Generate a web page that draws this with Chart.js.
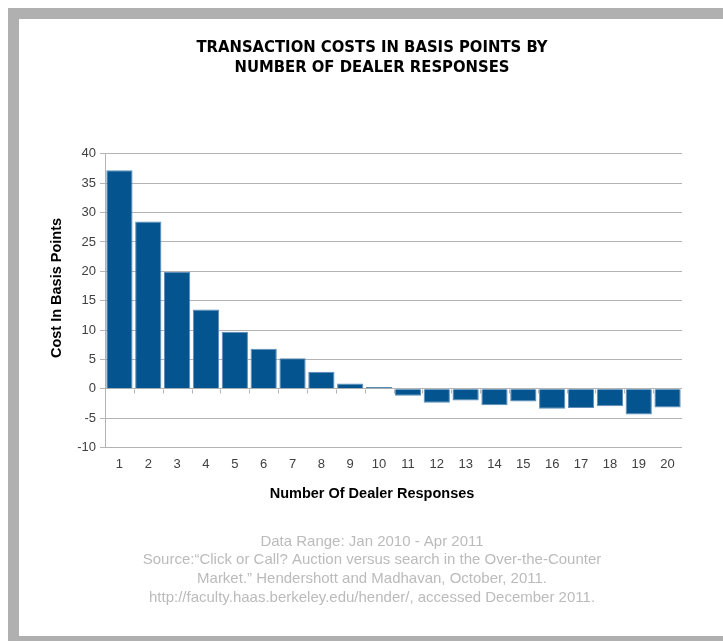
<!DOCTYPE html>
<html>
<head>
<meta charset="utf-8">
<script src="https://cdn.jsdelivr.net/npm/chart.js@4.4.1/dist/chart.umd.min.js"></script>
<style>
  html, body { margin: 0; padding: 0; background: #fff; overflow: hidden; }
  body { width: 723px; height: 641px; position: relative; }
  #frame {
    position: absolute; left: 8px; top: 8px;
    width: 800px; height: 617px;
    border: 11px solid #b0b0b0; border-right: none;
  }
  #mycanvas { position: absolute; left: 0; top: 0; }
</style>
</head>
<body>
<div id="frame"></div>
<canvas id="mycanvas" width="723" height="641"></canvas>
<script>
const categories = ['1', '2', '3', '4', '5', '6', '7', '8', '9', '10',
                    '11', '12', '13', '14', '15', '16', '17', '18', '19', '20'];
const costs = [37.2, 28.5, 19.9, 13.5, 9.7, 6.8, 5.2, 2.9, 0.9, 0.3,
               -1.2, -2.4, -2.0, -2.8, -2.2, -3.4, -3.3, -3.0, -4.4, -3.2];
const yTicks = [-10, -5, 0, 5, 10, 15, 20, 25, 30, 35, 40];

const titleLines = ['TRANSACTION COSTS IN BASIS POINTS BY', 'NUMBER OF DEALER RESPONSES'];
const xTitle = 'Number Of Dealer Responses';
const yTitle = 'Cost In Basis Points';
const footerLines = [
    'Data Range: Jan 2010 - Apr 2011',
    'Source:\u201CClick or Call? Auction versus search in the Over-the-Counter',
    'Market.\u201D Hendershott and Madhavan, October, 2011.',
    'http://faculty.haas.berkeley.edu/hender/, accessed December 2011.'
];

const gridColor = '#b3b3b3';
const axisFont = '"Liberation Sans", Arial, sans-serif';

// small tick marks where the category axis crosses zero
const zeroTicks = {
    id: 'zeroTicks',
    afterDatasetsDraw(chart) {
        const x = chart.scales.x, y = chart.scales.y;
        const ctx = chart.ctx;
        const y0 = Math.round(y.getPixelForValue(0)) + 0.5;
        ctx.save();
        ctx.strokeStyle = gridColor;
        ctx.lineWidth = 1;
        for (let i = 1; i < categories.length; i++) {
            let px = Math.round((x.getPixelForValue(i - 1) + x.getPixelForValue(i)) / 2) + 0.5;
            ctx.beginPath();
            ctx.moveTo(px, y0);
            ctx.lineTo(px, y0 + 4);
            ctx.stroke();
        }
        ctx.restore();
    }
};

// axis titles sit off-centre in the original, so they are drawn here
const axisTitles = {
    id: 'axisTitles',
    afterDraw(chart) {
        const ctx = chart.ctx;
        ctx.save();
        ctx.font = 'bold 14.5px ' + axisFont;
        ctx.fillStyle = '#000';
        ctx.textAlign = 'center';
        ctx.textBaseline = 'middle';
        ctx.fillText(xTitle, 372, 494);
        ctx.translate(57, 288);
        ctx.rotate(-Math.PI / 2);
        ctx.fillText(yTitle, 0, 0);
        ctx.restore();
    }
};

let ctx = document.getElementById('mycanvas').getContext('2d');

new Chart(ctx, {
    type: 'bar',
    data: {
        labels: categories,
        datasets: [{
            data: costs,
            backgroundColor: '#03548f',
            borderColor: '#5d8db8',
            borderWidth: 1,
            barPercentage: 0.91,
            categoryPercentage: 1
        }]
    },
    options: {
        responsive: false,
        animation: false,
        devicePixelRatio: 1,
        layout: { padding: { left: 62, right: 41, top: 0, bottom: 0 } },
        plugins: {
            legend: { display: false },
            tooltip: { enabled: false },
            title: {
                display: true,
                text: titleLines,
                color: '#000',
                font: { family: '"Liberation Sans Narrow", "DejaVu Sans Condensed", sans-serif', size: 16.5, weight: 'bold', lineHeight: 1.24 },
                padding: { top: 37, bottom: 76 }
            },
            subtitle: {
                display: true,
                position: 'bottom',
                text: footerLines,
                color: '#bbbbbb',
                font: { family: axisFont, size: 15, lineHeight: 1.25 },
                padding: { top: 51, bottom: 34 }
            }
        },
        scales: {
            x: {
                grid: { display: false, drawTicks: false },
                border: { display: false },
                ticks: {
                    color: '#404040',
                    padding: 9,
                    font: { family: axisFont, size: 13 }
                }
            },
            y: {
                min: -10,
                max: 40,
                afterBuildTicks: axis => { axis.ticks = yTicks.map(v => ({ value: v })); },
                afterFit: axis => { axis.width = 43; },
                grid: { color: gridColor, tickLength: 5 },
                border: { color: gridColor },
                ticks: {
                    color: '#404040',
                    padding: 4,
                    font: { family: axisFont, size: 13 }
                }
            }
        }
    },
    plugins: [zeroTicks, axisTitles]
});
</script>
</body>
</html>
